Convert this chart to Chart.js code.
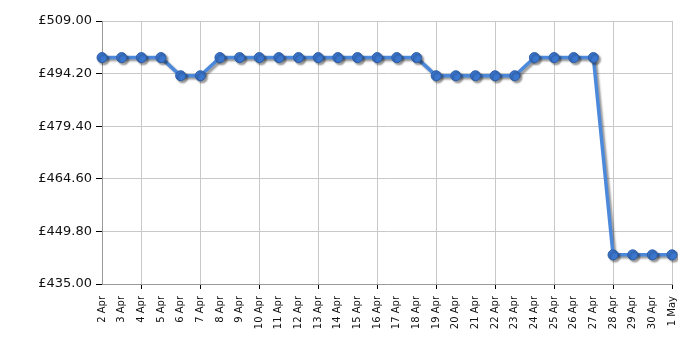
<!DOCTYPE html>
<html>
<head>
<meta charset="utf-8">
<script src="https://cdn.jsdelivr.net/npm/chart.js@4/dist/chart.umd.min.js"></script>
<style>
    html, body { margin: 0; padding: 0; background: #fff; }
    #wrap { width: 700px; height: 350px; }
</style>
</head>
<body>
<div id="wrap"><canvas id="priceChart"></canvas></div>
<script>
// 日付ラベル
const dates = [
    '2 Apr', '3 Apr', '4 Apr', '5 Apr', '6 Apr', '7 Apr', '8 Apr', '9 Apr', '10 Apr',
    '11 Apr', '12 Apr', '13 Apr', '14 Apr', '15 Apr', '16 Apr', '17 Apr', '18 Apr',
    '19 Apr', '20 Apr', '21 Apr', '22 Apr', '23 Apr', '24 Apr', '25 Apr', '26 Apr',
    '27 Apr', '28 Apr', '29 Apr', '30 Apr', '1 May'
];

// 価格
const prices = [
    498.7, 498.7, 498.7, 498.7, 493.6, 493.6, 498.7, 498.7, 498.7,
    498.7, 498.7, 498.7, 498.7, 498.7, 498.7, 498.7, 498.7,
    493.6, 493.6, 493.6, 493.6, 493.6, 498.7, 498.7, 498.7,
    498.7, 443.2, 443.2, 443.2, 443.2
];

// 縦軸の目盛り
const yTicks = [435.00, 449.80, 464.60, 479.40, 494.20, 509.00];

/**
 * 線と点に影を付ける
 */
const shadowPlugin = {
    id: 'shadow',
    beforeDatasetsDraw(chart) {
        const ctx = chart.ctx;
        ctx.save();
        ctx.shadowColor = 'rgba(0, 0, 0, 0.4)';
        ctx.shadowBlur = 2;
        ctx.shadowOffsetX = 2;
        ctx.shadowOffsetY = 2;
    },
    afterDatasetsDraw(chart) {
        chart.ctx.restore();
    }
};

// 3日ごとにグリッド線
const isGridTick = (i) => i % 3 === 2;

new Chart(document.getElementById('priceChart'), {
    type: 'line',
    data: {
        labels: dates,
        datasets: [{
            data: prices,
            borderColor: '#4d89da',
            borderWidth: 3.5,
            backgroundColor: '#3b77cf',
            pointBackgroundColor: '#3b77cf',
            pointBorderColor: '#2b5ca6',
            pointBorderWidth: 1,
            pointRadius: 5,
            tension: 0,
            fill: false
        }]
    },
    options: {
        responsive: true,
        maintainAspectRatio: false,
        animation: false,
        layout: {
            padding: { left: 0, right: 28, top: 21, bottom: 0 }
        },
        plugins: {
            legend: { display: false },
            tooltip: { enabled: false }
        },
        scales: {
            x: {
                offset: false,
                border: { color: '#999999', width: 1 },
                grid: {
                    color: (c) => isGridTick(c.index) ? '#c8c8c8' : 'rgba(0,0,0,0)',
                    tickColor: (c) => isGridTick(c.index) ? '#000000' : 'rgba(0,0,0,0)',
                    tickLength: 5
                },
                ticks: {
                    autoSkip: false,
                    minRotation: 90,
                    maxRotation: 90,
                    padding: 7,
                    color: '#111',
                    font: { family: 'DejaVu Sans', size: 10 }
                },
                afterFit: (s) => { s.height = 66; }
            },
            y: {
                min: 435,
                max: 509,
                border: { color: '#999999', width: 1 },
                grid: {
                    color: '#c8c8c8',
                    tickColor: '#000000',
                    tickLength: 6
                },
                afterBuildTicks: (s) => {
                    s.ticks = yTicks.map(v => ({ value: v }));
                },
                ticks: {
                    padding: 4,
                    color: '#111',
                    font: { family: 'DejaVu Sans', size: 13 },
                    callback: (v) => '£' + Number(v).toFixed(2)
                },
                afterFit: (s) => { s.width = 102; }
            }
        }
    },
    plugins: [shadowPlugin]
});
</script>
</body>
</html>
